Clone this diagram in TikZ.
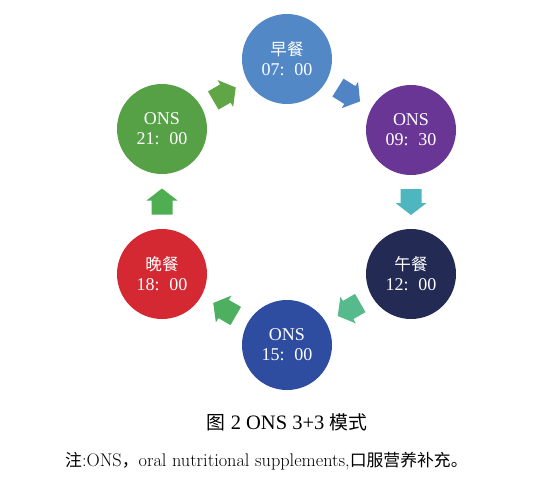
\documentclass[tikz,border=0pt]{standalone}
\usepackage{fontspec}
\setmainfont{Liberation Serif}
\newfontfamily\cjk[Scale=0.92]{Noto Sans CJK SC}
\newfontfamily\lmfont{Latin Modern Roman}
\usetikzlibrary{calc}
\definecolor{cTop}{RGB}{82,136,198}
\definecolor{cPurple}{RGB}{106,54,150}
\definecolor{cNavy}{RGB}{35,42,84}
\definecolor{cBlue}{RGB}{46,76,160}
\definecolor{cRed}{RGB}{212,40,50}
\definecolor{cGreen}{RGB}{86,160,70}
\definecolor{aBlue}{RGB}{80,132,196}
\definecolor{aTeal}{RGB}{78,182,190}
\definecolor{aMint}{RGB}{86,186,140}
\definecolor{aGreenA}{RGB}{76,176,96}
\definecolor{aGreenB}{RGB}{80,174,82}
\definecolor{aOlive}{RGB}{96,166,70}
\begin{document}
\begin{tikzpicture}[x=1pt,y=-1pt,
  meal/.style={circle, minimum size=90pt, inner sep=0pt, text=white, align=center,
    font=\fontsize{18}{20}\selectfont},
  barrow/.pic={\fill[#1] (-13,-10.5) -- (1,-10.5) -- (1,-15.5) -- (13,0) -- (1,15.5) -- (1,10.5) -- (-13,10.5) -- cycle;}]
\useasboundingbox[fill=white] (0,0) rectangle (551,493);
\node[meal, fill=cTop]    (n1) at (287,59)  {{\cjk 早餐}\\07:\hspace{10pt}00};
\node[meal, fill=cPurple] (n2) at (411,130) {ONS\\09:\hspace{10pt}30};
\node[meal, fill=cNavy]   (n3) at (411,274) {{\cjk 午餐}\\12:\hspace{10pt}00};
\node[meal, fill=cBlue]   (n4) at (287,345) {ONS\\15:\hspace{10pt}00};
\node[meal, fill=cRed]    (n5) at (162,274) {{\cjk 晚餐}\\18:\hspace{10pt}00};
\node[meal, fill=cGreen]  (n6) at (162,129) {ONS\\21:\hspace{10pt}00};
\path ($(n1)!0.5!(n2)$) pic[rotate=-32]{barrow=aBlue};
\path ($(n2)!0.5!(n3)$) pic[rotate=-90]{barrow=aTeal};
\path ($(n3)!0.5!(n4)$) pic[rotate=-150]{barrow=aMint};
\path ($(n4)!0.5!(n5)$) pic[rotate=-210]{barrow=aGreenA};
\path ($(n5)!0.5!(n6)$) pic[rotate=-270]{barrow=aGreenB};
\path ($(n6)!0.5!(n1)$) pic[rotate=-330]{barrow=aOlive};
\node[font=\fontsize{20.5}{23}\selectfont] (cap) at (287,422) {{\cjk 图} 2 ONS 3+3 {\cjk 模式}};
\node[anchor=west, inner sep=0pt, font=\fontsize{18.3}{20}\lmfont] (note) at (65,461)
  {{\cjk 注}:ONS{\cjk ，}oral nutritional supplements,{\cjk 口服营养补充。}};
\end{tikzpicture}
\end{document}
